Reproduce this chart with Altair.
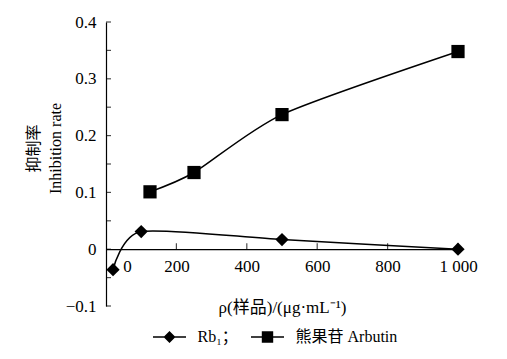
import altair as alt
import pandas as pd

# ---- data ----
series_names = ["Rb₁；", "熊果苷 Arbutin"]
rb_conc = [20, 100, 500, 1000]
rb_rate = [-0.036, 0.031, 0.017, 0.0]
ar_conc = [125, 250, 500, 1000]
ar_rate = [0.101, 0.135, 0.237, 0.348]
x_ticks = [0, 200, 400, 600, 800, 1000]
y_ticks = [-0.1, -0.05, 0.0, 0.05, 0.1, 0.15, 0.2, 0.25, 0.3, 0.35, 0.4]

rows = []
for c, r in zip(rb_conc, rb_rate):
    rows.append({"series": series_names[0], "conc": c, "rate": r})
for c, r in zip(ar_conc, ar_rate):
    rows.append({"series": series_names[1], "conc": c, "rate": r})
df = pd.DataFrame(rows)
xt_df = pd.DataFrame({"conc": x_ticks[1:]})
yt_df = pd.DataFrame({"rate": y_ticks})

SERIF = "Liberation Serif, 'Noto Sans CJK SC'"
W, H = 352, 284

x_scale = alt.Scale(domain=[0, 1000], nice=False, zero=False)
y_scale = alt.Scale(domain=[-0.1, 0.4], nice=False, zero=False)

x_enc = alt.X(
    "conc:Q",
    scale=x_scale,
    axis=alt.Axis(
        values=x_ticks,
        title="ρ(样品)/(μg·mL⁻¹)",
        offset=-H / 5,
        grid=False,
        domainColor="black",
        domainWidth=1.2,
        ticks=False,
        tickSize=0,
        labelPadding=9,
        labelFont=SERIF,
        labelFontSize=17,
        labelColor="black",
        labelFlush=False,
        labelOverlap=False,
        labelExpr="datum.value == 1000 ? '1 000' : datum.label",
        labelOffset={"condition": {"test": "datum.value == 0", "value": 21}, "value": 0},
        titleFont=SERIF,
        titleFontSize=17,
        titleFontWeight="normal",
        titleColor="black",
        titlePadding=25,
    ),
)

y_enc = alt.Y(
    "rate:Q",
    scale=y_scale,
    axis=alt.Axis(
        values=y_ticks,
        title=["抑制率", "Inhibition rate"],
        grid=False,
        domainColor="black",
        domainWidth=1.2,
        ticks=False,
        tickSize=0,
        labelPadding=10,
        labelFont=SERIF,
        labelFontSize=17,
        labelColor="black",
        labelFlush=False,
        labelOverlap=False,
        labelExpr="round(datum.value*20) % 2 != 0 ? '' : (datum.value == 0 ? '0' : format(datum.value, '.1f'))",
        titleFont=SERIF,
        titleFontSize=16,
        titleFontWeight="normal",
        titleColor="black",
        titleAngle=270,
        titleAlign="center",
        titleBaseline="bottom",
        titleX=-65,
        titleY=126,
        titleLineHeight=22,
    ),
)

# legend symbols: a short horizontal bar with the marker on it (filled paths)
PATH_RB = "M-2.75,-0.11H2.75V0.11H-2.75Z M0,-1L1,0L0,1L-1,0Z"
PATH_AR = "M-2.75,-0.11H2.75V0.11H-2.75Z M-0.95,-0.95H0.95V0.95H-0.95Z"

lines = alt.Chart(df).mark_line(
    color="black", strokeWidth=1.5, interpolate="cardinal", tension=0.3
).encode(x=x_enc, y=y_enc, detail="series:N")

points = alt.Chart(df).mark_point(
    filled=True, color="black", opacity=1, size=175
).encode(
    x=x_enc,
    y=y_enc,
    shape=alt.Shape(
        "series:N",
        scale=alt.Scale(domain=series_names, range=["diamond", "square"]),
        legend=None,
    ),
)

legend_layer = alt.Chart(df).mark_point(
    filled=True, color="black", opacity=0, size=1
).encode(
    x=x_enc,
    y=y_enc,
    shape=alt.Shape(
        "series:N",
        scale=alt.Scale(domain=series_names, range=[PATH_RB, PATH_AR]),
        legend=alt.Legend(
            title=None,
            orient="none",
            direction="horizontal",
            legendX=55.5,
            legendY=307,
            padding=0,
            labelFont=SERIF,
            labelFontSize=16,
            labelColor="black",
            labelOffset=20,
            columnPadding=12,
            symbolSize=144,
            symbolOpacity=1,
            symbolFillColor="black",
            symbolStrokeWidth=0,
        ),
    ),
)

# inward axis ticks
x_tick_marks = alt.Chart(xt_df).mark_tick(
    orient="vertical", color="black", size=6, thickness=1.2, yOffset=-3
).encode(x=alt.X("conc:Q", scale=x_scale), y=alt.Y(datum=0, scale=y_scale))

y_tick_marks = alt.Chart(yt_df).mark_tick(
    orient="horizontal", color="black", size=5, thickness=1.2, xOffset=2.5
).encode(y=alt.Y("rate:Q", scale=y_scale), x=alt.X(datum=0, scale=x_scale))

chart = (
    alt.layer(lines, points, legend_layer, x_tick_marks, y_tick_marks)
    .resolve_scale(shape="independent")
    .resolve_legend(shape="independent")
    .properties(
        width=W,
        height=H,
        autosize=alt.AutoSizeParams(type="none"),
        padding={"left": 98, "top": 14, "right": 41, "bottom": 45},
        background="white",
    )
    .configure_view(stroke=None)
)

chart.save("out.html", embed_options={"renderer": "svg", "actions": False})
